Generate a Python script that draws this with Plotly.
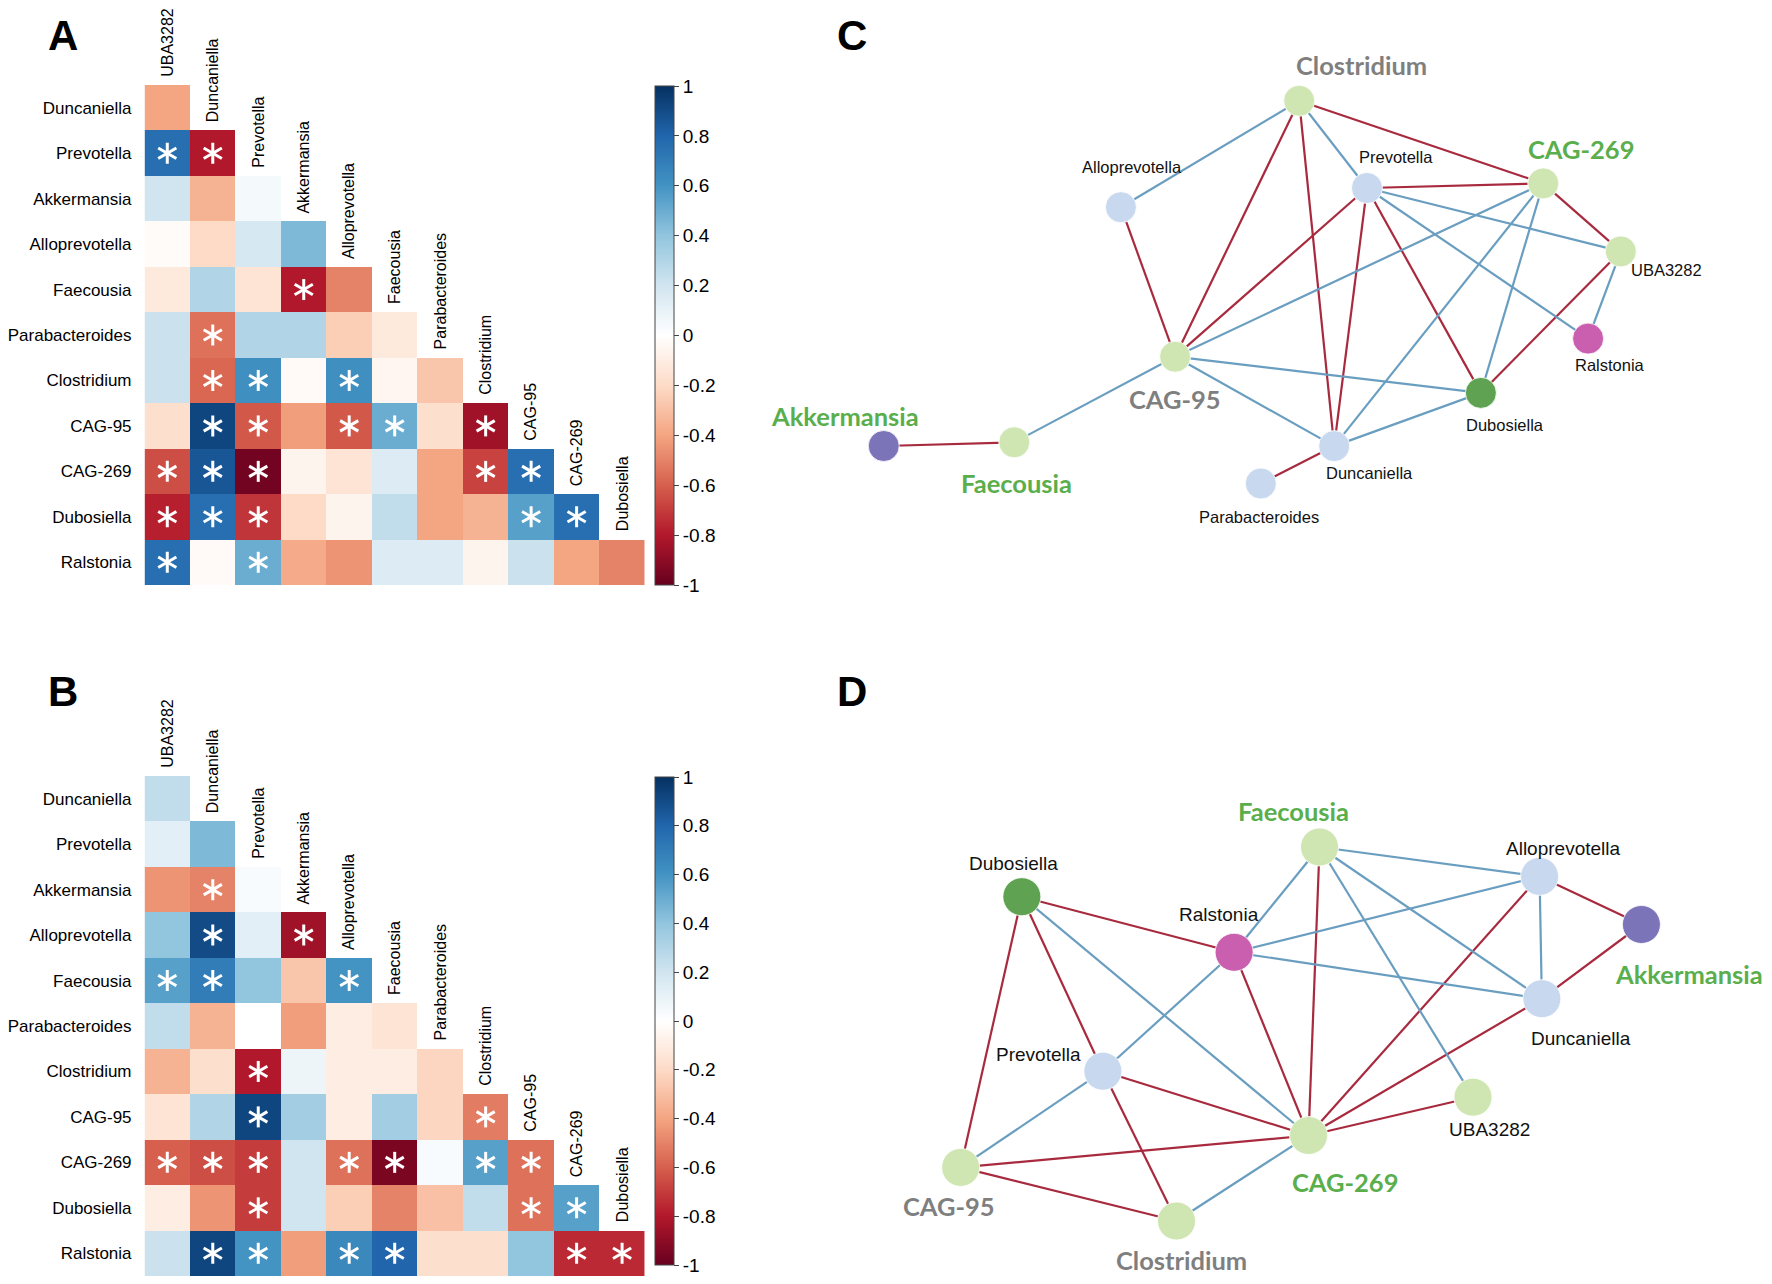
import plotly.graph_objects as go

# The page adds an 8px body margin, so the figure is drawn 16px smaller and all
# reference pixel positions are shifted by that margin.
WIN_W, WIN_H = 1772, 1284
OFF = 8
W, H = WIN_W - 2 * OFF, WIN_H - 2 * OFF

# ---------------- data ----------------
rows = ["Duncaniella", "Prevotella", "Akkermansia", "Alloprevotella", "Faecousia",
        "Parabacteroides", "Clostridium", "CAG-95", "CAG-269", "Dubosiella", "Ralstonia"]
cols = ["UBA3282", "Duncaniella", "Prevotella", "Akkermansia", "Alloprevotella",
        "Faecousia", "Parabacteroides", "Clostridium", "CAG-95", "CAG-269", "Dubosiella"]

corr_A = [
    [-0.40],
    [0.76, -0.80],
    [0.20, -0.35, 0.05],
    [-0.02, -0.20, 0.18, 0.45],
    [-0.12, 0.30, -0.15, -0.80, -0.50],
    [0.22, -0.55, 0.30, 0.30, -0.25, -0.12],
    [0.22, -0.58, 0.62, -0.03, 0.62, -0.05, -0.28],
    [-0.18, 0.92, -0.62, -0.42, -0.62, 0.50, -0.18, -0.85],
    [-0.65, 0.86, -0.97, -0.06, -0.15, 0.15, -0.40, -0.68, 0.76],
    [-0.78, 0.76, -0.72, -0.20, -0.06, 0.25, -0.40, -0.35, 0.55, 0.76],
    [0.76, -0.03, 0.50, -0.38, -0.45, 0.15, 0.15, -0.06, 0.22, -0.40, -0.50],
]
sig_A = [
    [0],
    [1, 1],
    [0, 0, 0],
    [0, 0, 0, 0],
    [0, 0, 0, 1, 0],
    [0, 1, 0, 0, 0, 0],
    [0, 1, 1, 0, 1, 0, 0],
    [0, 1, 1, 0, 1, 1, 0, 1],
    [1, 1, 1, 0, 0, 0, 0, 1, 1],
    [1, 1, 1, 0, 0, 0, 0, 0, 1, 1],
    [1, 0, 1, 0, 0, 0, 0, 0, 0, 0, 0],
]

corr_B = [
    [0.25],
    [0.12, 0.45],
    [-0.45, -0.50, 0.03],
    [0.40, 0.90, 0.12, -0.85],
    [0.55, 0.70, 0.40, -0.28, 0.60],
    [0.25, -0.35, 0.00, -0.42, -0.10, -0.15],
    [-0.35, -0.18, -0.80, 0.08, -0.10, -0.10, -0.22],
    [-0.15, 0.30, 0.92, 0.35, -0.10, 0.35, -0.22, -0.52],
    [-0.60, -0.65, -0.70, 0.20, -0.55, -0.95, 0.03, 0.55, -0.55],
    [-0.10, -0.45, -0.70, 0.20, -0.25, -0.50, -0.30, 0.25, -0.55, 0.55],
    [0.22, 0.92, 0.60, -0.42, 0.65, 0.80, -0.18, -0.18, 0.40, -0.75, -0.75],
]
sig_B = [
    [0],
    [0, 0],
    [0, 1, 0],
    [0, 1, 0, 1],
    [1, 1, 0, 0, 1],
    [0, 0, 0, 0, 0, 0],
    [0, 0, 1, 0, 0, 0, 0],
    [0, 0, 1, 0, 0, 0, 0, 1],
    [1, 1, 1, 0, 1, 1, 0, 1, 1],
    [0, 0, 1, 0, 0, 0, 0, 0, 1, 1],
    [0, 1, 1, 0, 1, 1, 0, 0, 0, 1, 1],
]

cbar_ticks = [1, 0.8, 0.6, 0.4, 0.2, 0, -0.2, -0.4, -0.6, -0.8, -1]

# network node layouts (pixel space of each panel)
nodes_C = {
    "Clostridium": (1297.6, 100.8), "Alloprevotella": (1118.7, 207.2),
    "Prevotella": (1365.6, 188.0), "CAG-269": (1542.5, 183.4),
    "UBA3282": (1620.3, 251.4), "Ralstonia": (1587.5, 338.6),
    "CAG-95": (1173.1, 356.7), "Dubosiella": (1479.9, 392.9),
    "Duncaniella": (1332.7, 446.1), "Parabacteroides": (1259.1, 483.5),
    "Akkermansia": (880.7, 446.0), "Faecousia": (1011.7, 442.3),
}
nodes_D = {
    "Faecousia": (1318.0, 847.0), "Alloprevotella": (1538.8, 876.4),
    "Dubosiella": (1019.3, 896.7), "Ralstonia": (1232.3, 952.3),
    "Akkermansia": (1641.0, 924.5), "Duncaniella": (1541.1, 998.7),
    "Prevotella": (1100.6, 1071.2), "UBA3282": (1472.0, 1097.2),
    "CAG-269": (1307.0, 1135.5), "CAG-95": (957.9, 1167.4),
    "Clostridium": (1174.5, 1221.0),
}

# ---------------- styles ----------------
FONT = "Liberation Sans, Arial, sans-serif"
BOLDFONT = "Lato, Open Sans, sans-serif"
colorscale_hex = ["#67001F", "#B2182B", "#D6604D", "#F4A582", "#FDDBC7", "#FFFFFF",
                  "#D1E5F0", "#92C5DE", "#4393C3", "#2166AC", "#053061"]
colorscale = [[i / 10, c] for i, c in enumerate(colorscale_hex)]

LIGHT_GREEN = "#cfe6b3"
LIGHT_BLUE = "#c8d8ee"
node_colors = {
    "Clostridium": LIGHT_GREEN, "CAG-269": LIGHT_GREEN, "CAG-95": LIGHT_GREEN,
    "UBA3282": LIGHT_GREEN, "Faecousia": LIGHT_GREEN,
    "Alloprevotella": LIGHT_BLUE, "Prevotella": LIGHT_BLUE, "Duncaniella": LIGHT_BLUE,
    "Parabacteroides": LIGHT_BLUE,
    "Dubosiella": "#5fa352", "Ralstonia": "#c95fae", "Akkermansia": "#7b74b8",
}
EDGE_NEG = "#a82a3e"
EDGE_POS = "#6a9ec0"
GREEN_TXT = "#5aae4c"
GRAY_TXT = "#7f7f7f"

label_offsets_C = {
    "Clostridium": (63, -36), "Alloprevotella": (11, -40), "Prevotella": (29, -31),
    "CAG-269": (38, -34), "UBA3282": (46, 19), "Ralstonia": (22, 26),
    "CAG-95": (0, 42), "Dubosiella": (24, 32), "Duncaniella": (35, 27),
    "Parabacteroides": (-2, 33), "Akkermansia": (-39, -30), "Faecousia": (2, 41),
}
label_offsets_D = {
    "Faecousia": (-26, -36), "Alloprevotella": (24, -28), "Dubosiella": (-8, -33),
    "Ralstonia": (-15, -38), "Akkermansia": (48, 49), "Duncaniella": (39, 40),
    "Prevotella": (-65, -17), "UBA3282": (17, 32), "CAG-269": (37, 46),
    "CAG-95": (-12, 39), "Clostridium": (5, 39),
}
bold_labels = {"C": {"Clostridium": GRAY_TXT, "CAG-95": GRAY_TXT, "CAG-269": GREEN_TXT,
                     "Akkermansia": GREEN_TXT, "Faecousia": GREEN_TXT},
               "D": {"Clostridium": GRAY_TXT, "CAG-95": GRAY_TXT, "CAG-269": GREEN_TXT,
                     "Akkermansia": GREEN_TXT, "Faecousia": GREEN_TXT}}
STAR_ANGLES = [0, 60, 120]   # three strokes -> six-armed asterisk


def fx(p):
    """reference pixel x -> paper x"""
    return (p - OFF) / W


def fy(p):
    """reference pixel y -> paper y"""
    return 1 - (p - OFF) / H


fig = go.Figure()
annotations = []
layout_axes = {}

# (axes, data, heatmap top/bottom, colorbar top/bottom) in reference pixels
heat_panels = [
    ("x", "y", "xaxis", "yaxis", corr_A, sig_A, 85, 585, 86, 585),
    ("x2", "y2", "xaxis2", "yaxis2", corr_B, sig_B, 776, 1276, 777, 1265),
]
HX0, HX1 = 139, 641

for xa, ya, xk, yk, corr, sig, top, bot, ctop, cbot in heat_panels:
    n = len(rows)
    z = [[corr[i][j] if j < len(corr[i]) else None for j in range(n)] for i in range(n)]
    fig.add_trace(go.Heatmap(
        z=z, x=list(range(n)), y=list(range(n)), xaxis=xa, yaxis=ya,
        zmin=-1, zmax=1, colorscale=colorscale, hoverinfo="skip",
        colorbar=dict(
            x=fx(651), xanchor="left", y=(fy(ctop) + fy(cbot)) / 2, yanchor="middle",
            len=(cbot - ctop) / H, lenmode="fraction", thickness=19, xpad=0, ypad=0,
            outlinecolor="#444", outlinewidth=1,
            tickvals=cbar_ticks, ticktext=[f"{t:g}" for t in cbar_ticks],
            ticks="outside", ticklen=5, tickcolor="#444",
            tickfont=dict(size=19, family=FONT, color="black"),
        ),
    ))
    # significance stars (drawn as white asterisk markers)
    sx, sy = [], []
    for i in range(n):
        for j in range(len(sig[i])):
            if sig[i][j]:
                sx.append(j)
                sy.append(i)
    for ang in STAR_ANGLES:
        fig.add_trace(go.Scatter(
            x=sx, y=sy, mode="markers", xaxis=xa, yaxis=ya, hoverinfo="skip",
            showlegend=False,
            marker=dict(symbol="line-ns-open", size=15, angle=ang, color="white",
                        line=dict(width=3.0, color="white")),
        ))
    # column labels above the diagonal cells
    for j, c in enumerate(cols):
        annotations.append(dict(
            x=j, y=j - 0.5, xref=xa, yref=ya, text=c, showarrow=False,
            textangle=-90, xanchor="center", yanchor="bottom", yshift=6,
            font=dict(size=16, family=FONT, color="black"),
        ))
    layout_axes[xk] = dict(domain=[fx(HX0), fx(HX1)], range=[-0.5, n - 0.5],
                           showticklabels=False, showgrid=False, zeroline=False,
                           ticks="", showline=False, anchor=ya)
    layout_axes[yk] = dict(domain=[fy(bot), fy(top)], range=[n - 0.5, -0.5],
                           tickvals=list(range(n)), ticktext=rows, ticks="",
                           showgrid=False, zeroline=False, showline=False,
                           tickfont=dict(size=17, family=FONT, color="black"),
                           ticklabelstandoff=12, anchor=xa)

# ---------------- networks ----------------
net_panels = [
    ("x3", "y3", "xaxis3", "yaxis3", nodes_C, corr_A, sig_A, label_offsets_C, "C", 31, 16.5, [642, OFF]),
    ("x4", "y4", "xaxis4", "yaxis4", nodes_D, corr_B, sig_B, label_offsets_D, "D", 38, 19, [WIN_H - OFF, 642]),
]
for xa, ya, xk, yk, nodes, corr, sig, offs, key, nsize, lsize, yr in net_panels:
    for sign, color in ((-1, EDGE_NEG), (1, EDGE_POS)):
        ex, ey = [], []
        for i, r in enumerate(rows):
            for j in range(len(sig[i])):
                if sig[i][j] and (corr[i][j] > 0) == (sign > 0):
                    a, b = nodes[r], nodes[cols[j]]
                    ex += [a[0], b[0], None]
                    ey += [a[1], b[1], None]
        fig.add_trace(go.Scatter(x=ex, y=ey, mode="lines", xaxis=xa, yaxis=ya,
                                 line=dict(color=color, width=2.2), hoverinfo="skip",
                                 showlegend=False))
    names = list(nodes.keys())
    fig.add_trace(go.Scatter(
        x=[nodes[k][0] for k in names], y=[nodes[k][1] for k in names],
        mode="markers", xaxis=xa, yaxis=ya, hoverinfo="skip", showlegend=False,
        marker=dict(size=nsize, color=[node_colors[k] for k in names],
                    line=dict(width=0.8, color="white")),
    ))
    for k in names:
        dx, dy = offs[k]
        if k in bold_labels[key]:
            font = dict(size=25.5, family=BOLDFONT, color=bold_labels[key][k])
            txt = f"<b>{k}</b>"
        else:
            font = dict(size=lsize, family=FONT, color="#111")
            txt = k
        annotations.append(dict(x=nodes[k][0] + dx, y=nodes[k][1] + dy, xref=xa, yref=ya,
                                text=txt, showarrow=False, font=font,
                                xanchor="center", yanchor="middle"))
    layout_axes[xk] = dict(domain=[fx(740), 1], range=[740, WIN_W - OFF], visible=False, anchor=ya)
    layout_axes[yk] = dict(domain=[fy(yr[0]), fy(yr[1])], range=yr, visible=False, anchor=xa)

# panel letters
for letter, (lx, ly) in {"A": (57, 36), "B": (57, 691), "C": (849, 36), "D": (849, 691)}.items():
    annotations.append(dict(x=fx(lx), y=fy(ly), xref="paper", yref="paper", text=f"<b>{letter}</b>",
                            showarrow=False, xanchor="center", yanchor="middle",
                            font=dict(size=42, family=FONT, color="black")))

fig.update_layout(
    width=W, height=H, margin=dict(l=0, r=0, t=0, b=0),
    paper_bgcolor="white", plot_bgcolor="white", showlegend=False,
    annotations=annotations, **layout_axes,
)

fig.write_html("out.html")
